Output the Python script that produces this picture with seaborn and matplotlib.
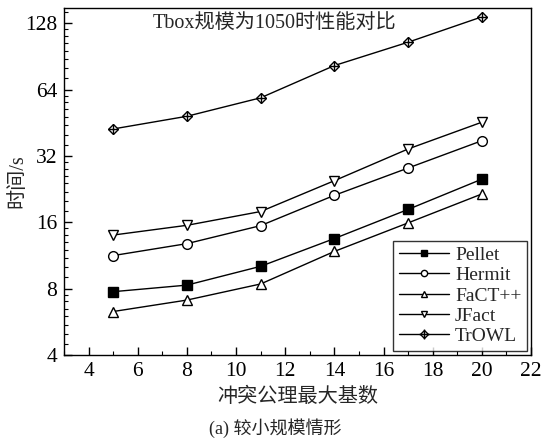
import numpy as np
import pandas as pd
import matplotlib
matplotlib.use('Agg')
import matplotlib.pyplot as plt
import matplotlib.ticker as mticker
from matplotlib.legend_handler import HandlerTuple
import seaborn as sns

# data
max_card = [5, 8, 11, 14, 17, 20]
pellet = [7.75, 8.3, 10.1, 13.5, 18.3, 25.1]
hermit = [11.3, 12.8, 15.45, 21.2, 28.2, 37.5]
fact = [6.3, 7.1, 8.4, 11.8, 15.9, 21.5]
jfact = [14.0, 15.5, 17.9, 24.7, 34.4, 45.5]
trowl = [42.4, 48.4, 58.7, 82.2, 104.9, 136.7]

names = ['Pellet', 'Hermit', 'FaCT++', 'JFact', 'TrOWL']
series = [pellet, hermit, fact, jfact, trowl]
y_ticks = [4, 8, 16, 32, 64, 128]
x_ticks = [4, 6, 8, 10, 12, 14, 16, 18, 20, 22]

sns.set_style('ticks')
plt.rcParams['font.family'] = ['Liberation Serif', 'Noto Sans CJK SC', 'DejaVu Sans']
plt.rcParams['axes.unicode_minus'] = False

fig = plt.figure(figsize=(5.54, 4.43), dpi=100)
ax = fig.add_axes([0.1155, 0.1986, 0.843, 0.7834])

styles = {
    'Pellet': dict(marker='s', markerfacecolor='black'),
    'Hermit': dict(marker='o', markerfacecolor='white'),
    'FaCT++': dict(marker='^', markerfacecolor='white'),
    'JFact': dict(marker='v', markerfacecolor='white'),
    'TrOWL': dict(marker='D', markerfacecolor='white'),
}

handles = []
for name, vals in zip(names, series):
    df = pd.DataFrame({'x': max_card, 'y': vals})
    sns.lineplot(data=df, x='x', y='y', ax=ax, color='black', linewidth=1,
                 markersize=7 if name != 'TrOWL' else 5.5, markeredgecolor='black',
                 markeredgewidth=1, **styles[name])
    line = ax.lines[-1]
    if name == 'TrOWL':
        sns.lineplot(data=df, x='x', y='y', ax=ax, color='black', linewidth=0,
                     marker='+', markersize=7, markeredgewidth=1, markeredgecolor='black')
        handles.append((line, ax.lines[-1]))
    else:
        handles.append(line)

ax.set_yscale('log', base=2)
ax.set_ylim(4, 150)
ax.set_xlim(3, 22)
ax.set_yticks(y_ticks)
ax.yaxis.set_major_formatter(mticker.FuncFormatter(lambda v, p: '%d' % v))
ax.yaxis.set_minor_locator(mticker.LogLocator(base=2, subs=np.arange(1.125, 2, 0.125)))
ax.yaxis.set_minor_formatter(mticker.NullFormatter())
ax.set_xticks(x_ticks)
ax.xaxis.set_minor_locator(mticker.MultipleLocator(1))

ax.tick_params(which='both', direction='in', top=False, right=False, labelsize=15.5, colors='black')
ax.tick_params(which='major', length=6, width=1, pad=5)
ax.tick_params(which='minor', length=3, width=0.8)
for s in ax.spines.values():
    s.set_color('black')
    s.set_linewidth(1)

ax.set_xlabel('冲突公理最大基数', fontsize=14.5, labelpad=5)
ax.set_ylabel('时间/s', fontsize=14.5)
ax.yaxis.set_label_coords(-0.078, 0.5)
ax.text(0.45, 0.955, 'Tbox规模为1050时性能对比', transform=ax.transAxes,
        ha='center', va='center', fontsize=14.5)
fig.text(0.497, 0.034, '(a) 较小规模情形', ha='center', va='center', fontsize=13)

leg = ax.legend(handles, names, loc='lower right', fontsize=14, frameon=True,
                fancybox=False, edgecolor='black', handlelength=2.6, handletextpad=0.3,
                borderpad=0.3, labelspacing=0.14, borderaxespad=0.2,
                handler_map={tuple: HandlerTuple(ndivide=1)})
leg.get_frame().set_linewidth(1)
for h in leg.legend_handles:
    try:
        h.set_markersize(4.5)
    except AttributeError:
        pass

fig.savefig('out.png', dpi=100)
